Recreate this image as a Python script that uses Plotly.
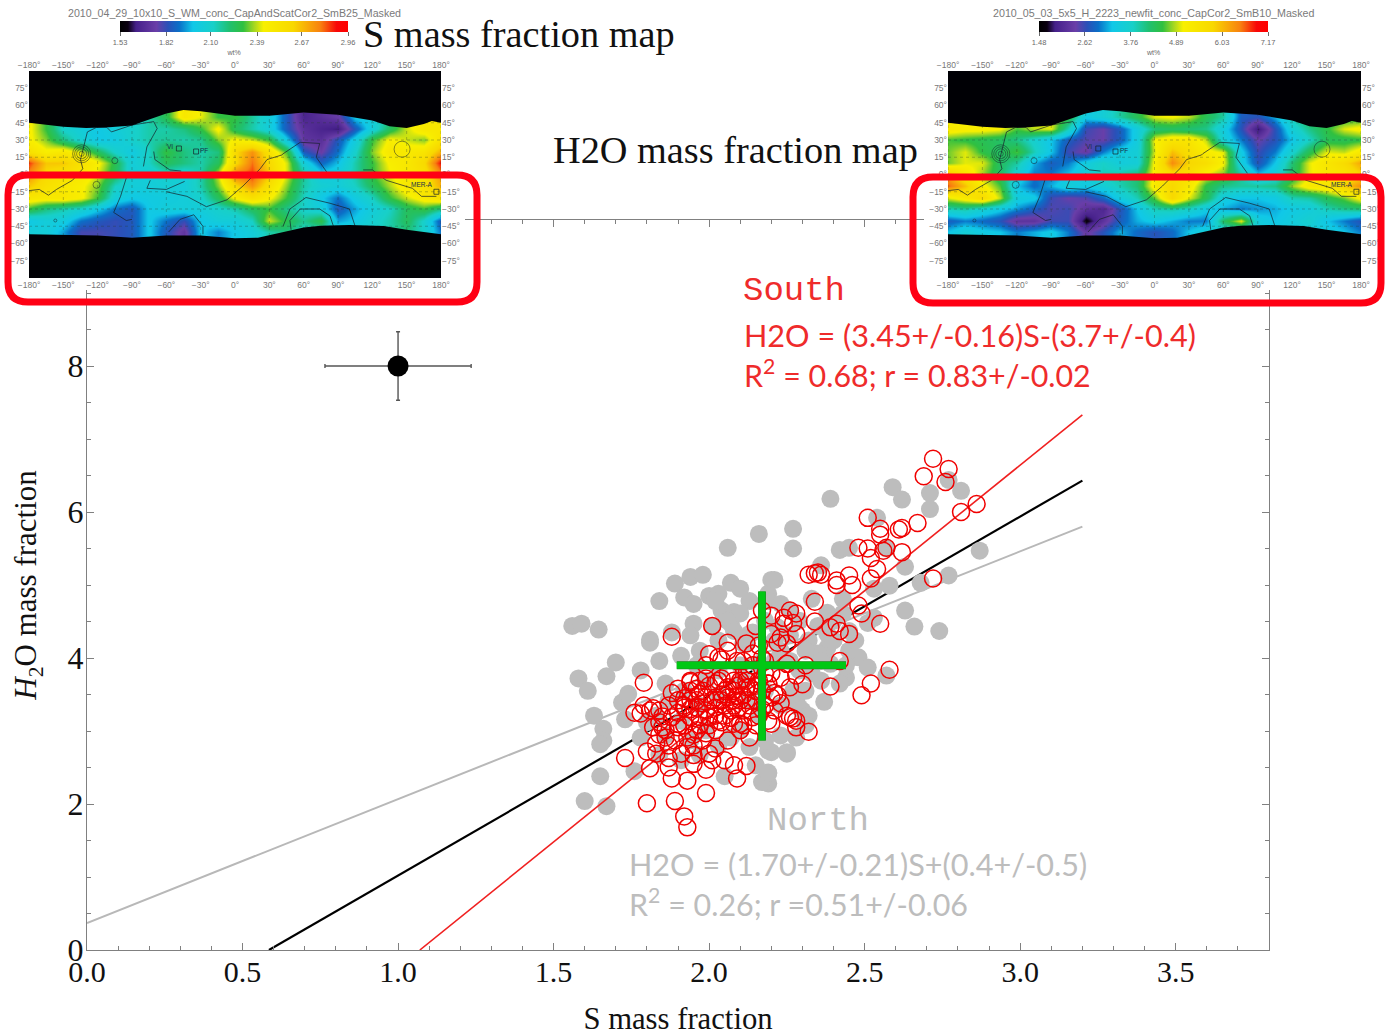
import plotly.graph_objects as go

W, H = 1389, 1036

# ---------- scatter data: S mass fraction, H2O mass fraction ----------
north_s = [1.56,1.59,1.645,1.84,1.81,1.89,1.94,1.98,1.92,1.95,1.95,1.94,1.88,2.00,2.03,2.07,2.10,2.13,2.06,2.16,2.20,2.04,2.08,2.07,2.01,2.14,2.11,2.19,
 2.77,2.59,2.62,2.71,2.81,2.71,2.39,2.27,2.27,2.54,2.87,2.77,2.42,2.45,2.57,2.36,2.63,2.21,2.19,2.63,2.66,2.74,2.68,2.58,2.53,2.43,2.33,2.38,2.53,2.51,2.43,2.35,2.45,2.38,2.22,2.29,2.26,2.23,
 2.37,2.48,2.51,2.57,2.44,2.42,2.38,2.32,2.35,2.28,2.30,2.28,2.25,2.20,2.19,2.19,2.39,2.33,2.27,
 1.86,1.78,2.13,2.10,2.02,2.06,1.96,2.12,
 1.58,1.61,1.67,1.70,1.72,1.74,1.63,1.66,1.66,1.65,1.73,1.78,1.65,1.76,1.60,1.67,2.05,2.17,2.19,2.15,2.19,2.25,2.13,2.07,1.81,2.29,2.27,1.80,
 2.31,2.40,2.45,2.44,2.36,2.31,2.29,2.26,2.23,2.21,2.26,2.47,2.40,2.36,2.32,2.31,
 1.84,1.91,1.97,2.03,2.08,2.18,2.21,2.16,2.10,2.03,1.99,1.92,1.87,1.83,1.86,1.91,1.97,2.03,2.11,2.18,2.23,2.16,2.10,2.03,1.97,1.91,1.84,1.99,1.94,2.13,2.23,2.18]
north_h = [4.44,4.47,4.39,4.78,4.25,5.02,5.11,5.14,4.83,4.74,4.47,4.31,4.35,4.85,4.88,5.03,4.95,4.78,5.51,5.70,5.07,4.65,4.63,4.47,4.44,4.35,4.20,4.88,
 6.44,6.34,6.17,6.26,6.29,6.04,6.18,5.77,5.50,5.92,5.47,5.13,5.48,5.51,5.50,5.27,5.25,5.07,4.78,4.65,4.43,4.37,5.03,4.99,4.95,4.81,4.81,4.62,4.55,4.48,4.61,4.44,4.37,4.33,4.42,4.51,4.65,4.74,
 3.40,4.01,3.87,3.76,3.73,3.65,4.14,4.24,4.06,3.42,3.28,2.91,2.69,2.71,2.42,2.28,3.92,3.79,3.55,
 3.65,3.83,4.33,4.61,4.78,4.51,3.90,4.20,
 3.72,3.55,3.75,3.94,3.39,3.51,3.21,3.03,2.87,2.82,3.16,2.91,2.38,2.45,2.04,1.97,2.38,2.30,2.43,2.53,2.73,2.71,2.78,2.91,4.21,3.32,3.51,3.12,
 4.10,4.24,4.10,3.90,3.69,3.55,3.83,3.96,4.10,4.24,4.31,4.24,4.51,3.96,3.21,3.08,
 3.96,4.03,4.10,4.24,4.37,4.51,3.96,3.90,3.90,3.83,3.69,3.55,3.42,3.21,2.94,3.14,3.35,3.49,3.69,3.55,3.35,3.21,3.01,2.80,2.67,2.60,2.67,3.01,2.87,3.42,2.94,2.87]

south_s = [2.72,2.77,2.69,2.76,2.86,2.81,2.51,2.67,2.62,2.61,2.55,2.55,2.51,2.48,2.56,2.57,2.62,2.52,2.54,2.52,2.45,2.46,2.41,2.41,2.32,2.35,2.36,2.34,2.72,2.34,2.48,2.49,2.55,2.34,2.39,2.41,2.42,2.45,2.26,2.28,2.24,2.27,2.20,2.23,
 2.42,2.58,2.52,2.49,2.39,2.30,2.31,2.28,2.32,2.28,2.27,2.28,2.25,2.20,2.20,2.22,2.23,2.25,2.21,2.19,2.28,2.25,2.22,
 2.17,2.01,1.88,1.79,2.06,2.06,2.03,2.00,2.12,2.20,2.24,2.09,2.14,2.10,1.94,1.90,1.96,1.99,2.02,2.06,2.12,2.16,2.20,2.08,2.04,1.96,1.92,1.84,1.81,1.88,1.78,1.76,1.82,
 1.73,1.81,1.80,1.89,1.99,1.92,1.93,1.93,1.88,2.09,2.12,2.08,1.99,1.87,1.87,1.83,1.83,1.95,2.02,2.00,2.01,1.91,1.86,1.84,1.86,1.90,1.92,1.94,1.94,1.97,
 2.13,2.03,2.10,2.10,1.99,1.93,1.96,1.90,1.89,1.93,1.98,2.06,2.00,1.97,1.94,2.07,2.11,2.08,2.14,2.19,2.19,2.12,2.08,2.02,2.06,2.10,2.15,1.98,2.02,2.26,
 2.05,2.08,2.11,2.15,2.18,2.03,1.97,1.94,1.99,2.02,2.05,2.08,2.11,2.15,2.16,2.02,1.97,1.95,1.92,1.87,2.13,2.18,2.11,2.16,2.15,
 2.00,2.04,2.09,2.13,2.17,2.21,1.98,2.01,2.05,2.09,2.13,2.17,1.94,1.96,1.90,1.87,1.85,1.90,1.95,2.00,2.04,2.07,2.12,2.15,2.18,2.12,2.06,2.09,2.04,1.99,1.92,1.88,1.85,1.82,1.79,1.84,1.80,1.95,2.05,2.23,2.17,2.14,2.04,1.99,2.26]
south_h = [6.73,6.59,6.49,6.41,6.11,6.00,5.92,5.85,5.78,5.76,5.77,5.69,5.50,5.51,5.47,5.51,5.45,5.37,5.22,5.09,5.13,5.00,5.06,5.00,5.14,5.17,5.14,5.16,5.09,4.77,4.72,4.61,4.47,4.50,4.42,4.47,4.37,4.33,4.65,4.61,4.55,4.48,4.33,4.28,
 3.96,3.84,3.65,3.49,3.61,3.64,3.90,3.76,2.99,3.14,3.17,3.05,3.21,3.10,3.46,3.49,3.73,3.92,3.28,3.65,4.33,4.20,4.21,
 4.65,4.44,4.29,3.66,4.21,4.10,4.01,4.05,4.20,4.58,4.47,3.96,4.06,3.69,3.69,3.58,3.58,3.46,3.65,3.79,3.60,3.69,3.79,3.55,3.42,3.32,3.35,3.28,3.28,3.19,3.24,3.25,3.31,
 2.63,2.49,2.01,2.04,2.15,1.83,1.68,2.32,2.35,2.35,2.52,2.53,2.47,2.50,2.63,2.69,2.83,2.67,2.76,2.69,2.60,2.69,2.91,3.12,3.01,3.25,3.32,3.67,3.55,3.51,
 2.91,3.14,3.10,3.01,2.97,2.91,3.01,3.05,2.87,2.78,2.87,2.87,3.19,3.19,3.19,3.28,3.28,3.10,3.19,3.14,3.65,3.69,3.69,3.46,3.46,3.42,3.42,3.38,3.32,3.19,
 3.55,3.42,3.49,3.55,3.35,3.69,3.69,3.42,3.28,3.21,3.21,3.35,3.08,3.08,3.21,3.01,3.08,2.80,3.08,2.80,3.83,3.96,3.96,4.17,4.44,
 3.62,3.72,3.62,3.60,3.55,3.52,3.55,3.42,3.35,3.30,3.35,3.30,3.30,3.42,3.42,3.35,3.20,3.10,2.95,3.08,3.12,3.18,3.42,3.62,3.78,3.78,3.60,3.48,3.50,3.72,3.45,3.52,3.05,3.05,3.35,2.95,2.72,2.55,2.60,3.38,4.00,3.90,3.98,3.90,3.60]

# fit lines (end points)
fit_north_s, fit_north_h = [0.0, 3.2], [0.37, 5.80]
fit_all_s, fit_all_h = [0.585, 3.2], [0.0, 6.43]
fit_south_s, fit_south_h = [1.07, 3.2], [0.0, 7.33]

# mean and spread cross (green); typical error cross (black)
cross_h_s, cross_h_h = [1.896, 2.44], [3.9, 3.9]
cross_v_s, cross_v_h = [2.17, 2.17], [2.87, 4.91]
err_s, err_h, err_ds, err_dh = [1.0], [8.0], [0.235], [0.47]

x_ticks = [0, 0.5, 1.0, 1.5, 2.0, 2.5, 3.0, 3.5]
y_ticks = [0, 2, 4, 6, 8]

# ---------- maps ----------
map_lon = [-180,-165,-150,-135,-120,-105,-90,-75,-60,-45,-30,-15,0,15,30,45,60,75,90,105,120,135,150,165,180]
map_lat = [60,50,40,30,20,10,0,-10,-20,-30,-40,-50,-60]

s_map = [
 [2.45,2.3,2.1,2.05,2.0,2.05,2.1,2.15,2.27,2.5,2.42,2.3,2.3,2.17,2.05,1.85,1.65,1.7,1.75,2.0,2.05,2.2,2.4,2.5,2.5],
 [2.45,2.3,2.1,2.05,2.0,2.05,2.1,2.15,2.27,2.5,2.42,2.3,2.3,2.17,2.05,1.85,1.65,1.7,1.75,2.0,2.05,2.2,2.4,2.5,2.5],
 [2.45,2.3,2.1,2.05,2.0,2.05,2.1,2.15,2.15,2.2,2.3,2.45,2.25,2.15,2.05,1.85,1.7,1.65,1.62,1.85,2.05,2.25,2.4,2.5,2.5],
 [2.45,2.35,2.2,2.08,2.0,2.02,2.1,2.15,2.17,2.15,2.18,2.35,2.45,2.4,2.3,2.0,1.72,1.7,1.85,2.03,2.3,2.45,2.4,2.35,2.55],
 [2.55,2.45,2.5,2.4,2.25,2.1,2.02,2.12,2.3,2.2,2.15,2.2,2.6,2.75,2.55,2.3,1.85,1.75,1.9,2.1,2.35,2.5,2.48,2.52,2.7],
 [2.85,2.65,2.65,2.55,2.45,2.27,2.05,2.12,2.25,2.2,2.15,2.25,2.6,2.8,2.6,2.4,2.05,1.88,1.98,2.15,2.3,2.45,2.5,2.6,2.9],
 [2.75,2.6,2.55,2.5,2.4,2.25,2.05,2.05,2.1,2.05,2.15,2.4,2.8,2.85,2.65,2.4,2.17,2.02,2.05,2.15,2.3,2.42,2.5,2.55,2.75],
 [2.65,2.55,2.5,2.45,2.35,2.12,2.05,2.05,2.07,2.05,2.15,2.35,2.6,2.75,2.55,2.35,2.15,2.08,2.05,2.12,2.25,2.38,2.5,2.55,2.7],
 [2.5,2.48,2.5,2.45,2.3,2.05,2.0,2.02,2.03,2.05,2.1,2.25,2.45,2.55,2.45,2.3,2.12,2.0,1.9,2.02,2.12,2.3,2.4,2.48,2.55],
 [2.3,2.2,2.15,2.1,2.0,1.9,1.85,2.0,2.05,2.05,2.05,2.1,2.15,2.25,2.3,2.18,2.1,2.05,1.85,1.95,2.05,2.12,2.25,2.3,2.2],
 [2.0,2.05,2.03,1.9,1.85,1.82,1.85,2.0,1.9,1.82,2.0,2.05,2.05,2.12,2.4,2.27,2.18,2.28,1.95,2.0,2.08,2.15,2.25,2.1,1.85],
 [2.05,2.05,1.95,1.8,1.8,1.82,1.85,2.0,1.85,1.72,2.0,1.92,2.0,2.05,2.15,2.2,2.1,2.1,2.1,2.1,2.1,2.15,2.2,2.1,1.9],
 [2.05,2.05,1.95,1.8,1.8,1.82,1.85,2.0,1.85,1.72,2.0,1.92,2.0,2.05,2.15,2.2,2.1,2.1,2.1,2.1,2.1,2.15,2.2,2.1,1.9],
]
h_map = [
 [5.0,5.0,5.0,5.0,5.0,5.0,5.0,4.5,3.4,3.6,4.0,4.4,5.0,5.1,4.9,4.4,4.0,2.8,2.7,3.2,3.9,4.4,4.4,4.4,4.4],
 [5.0,5.0,5.0,5.0,5.0,5.0,5.0,4.5,3.4,3.6,4.0,4.4,5.0,5.1,4.9,4.4,4.0,2.8,2.7,3.2,3.9,4.4,4.4,4.4,4.4],
 [5.3,5.2,5.2,5.1,4.6,4.9,5.0,3.9,2.6,2.4,2.8,3.5,4.2,4.3,4.2,4.1,3.5,2.7,1.8,2.7,3.6,4.1,4.5,5.0,5.2],
 [4.6,4.5,4.4,4.3,4.1,3.7,3.3,2.8,2.5,2.4,2.8,3.5,5.1,5.4,5.4,4.9,3.6,3.0,2.4,2.7,3.3,3.8,4.4,4.4,4.5],
 [4.7,5.0,4.5,4.3,4.6,3.9,3.3,2.6,2.3,3.0,3.5,3.6,5.0,6.0,5.6,5.2,5.0,3.4,2.6,3.0,3.7,4.4,5.0,4.9,5.3],
 [4.7,5.0,5.0,4.3,4.0,3.2,2.8,3.0,3.5,3.8,3.5,3.6,5.2,6.4,5.8,5.6,5.1,3.5,2.7,3.3,4.2,5.0,5.4,5.7,6.2],
 [6.2,5.4,4.8,4.3,3.6,3.0,3.0,3.3,3.6,3.9,4.0,4.2,5.2,5.6,5.6,5.0,4.7,4.0,3.3,3.6,4.3,5.0,5.3,5.4,5.8],
 [6.6,6.0,5.2,4.6,3.3,2.9,3.2,3.6,3.4,3.6,3.9,4.2,5.3,5.8,5.3,4.5,4.1,4.0,4.0,4.1,4.8,5.3,5.4,5.9,6.4],
 [5.0,5.3,5.7,4.9,3.5,3.4,2.6,2.4,2.5,2.9,3.5,3.9,4.7,5.8,5.0,4.4,3.5,3.3,3.3,3.4,3.9,4.0,4.4,4.7,5.2],
 [3.9,4.0,3.7,3.4,3.1,2.8,2.5,2.6,2.2,2.0,2.7,3.3,3.9,4.0,3.8,3.4,3.2,3.0,3.1,3.2,3.4,3.5,3.9,4.1,4.2],
 [2.8,3.0,2.9,2.7,2.2,2.2,2.6,2.6,1.6,2.2,2.8,3.2,3.4,3.2,3.0,3.0,4.3,5.0,3.5,3.3,3.5,3.7,3.3,3.0,2.7],
 [3.3,3.6,3.4,3.3,3.0,3.2,3.4,3.0,2.3,2.7,3.2,2.9,2.7,2.9,3.3,3.6,3.5,3.5,3.5,3.5,3.5,3.5,3.5,3.3,3.0],
 [3.3,3.6,3.4,3.3,3.0,3.2,3.4,3.0,2.3,2.7,3.2,2.9,2.7,2.9,3.3,3.6,3.5,3.5,3.5,3.5,3.5,3.5,3.5,3.3,3.0],
]
s_cbar_ticks = [1.53, 1.82, 2.10, 2.39, 2.67, 2.96]
h_cbar_ticks = [1.48, 2.62, 3.76, 4.89, 6.03, 7.17]

# edge of the observed band (everything outside it is black)
band_top_lon = [-180,-165,-150,-130,-110,-90,-75,-60,-45,-30,0,30,60,90,120,135,150,165,172,180]
band_top_lat = [45,43,41.5,40.5,41,42.5,48,53,56,55,51,51,54,52,47,42,40.5,44,46.5,45]
band_bot_lon = [-180,-150,-120,-90,-60,-30,0,20,40,60,75,100,130,150,180]
band_bot_lat = [-52,-52.5,-53,-55,-53,-53,-55.5,-55,-50.5,-46,-44.5,-44,-44.7,-48,-52]

# Mars topographic outline
contour_lon = [-180,-171,-163,-156,-142,-133,-135,-129,-121,-112,-108,-90,-71,-68,-77,-80,None,
 -71,-70,-57,-47,None,-95,-100,-106,-95,-90,None,-74,-77,-60,-44,None,
 -60,-42,-25,-7,7,22,28,41,42,57,74,71,81,None,
 42,48,62,83,100,105,None,49,48,57,74,83,86,None,
 -58,-48,-36,-28,-28,None,112,120,132,155,163,176]
contour_lat = [-14,-13,-18,-13,-5,5,13,37,41,41,37,43,46,40,24,7,None,
 20,13,4,3,None,-3,-19,-33,-40,-39,None,-5,-12,-13,-6,None,
 -15,-19,-28,-22,-10,5,13,17,18,28,27,15,1,None,
 -45,-30,-20,-25,-30,-45,None,-48,-40,-30,-30,-36,-45,None,
 -50,-39,-35,-45,-52,None,4,4,-5,-12,-19,-19]
ring_lon = [-134,-134,-134,-134,146,-121,-105,-157]
ring_lat = [18,18,18,18,22,-9,12,-40]
ring_size = [5,10,14,18,16,7,6,3]
site_lon, site_lat = [-49,-34,176], [22.6,20,-15]
label_lon, label_lat, label_txt = [-57,-27,163], [24,21,-9], ["VI","PF","MER-A"]

lon_ticks = [-180,-150,-120,-90,-60,-30,0,30,60,90,120,150,180]
lat_ticks = [-75,-60,-45,-30,-15,0,15,30,45,60,75]
lon_labels = [("\u2212" if v < 0 else "") + f"{abs(v)}\u00b0" for v in lon_ticks]
lat_labels = [("\u2212" if v < 0 else "") + f"{abs(v)}\u00b0" for v in lat_ticks]

rainbow = [[0,"#000000"],[0.035,"#0a0010"],[0.07,"#45208a"],[0.16,"#6a3ea8"],[0.21,"#2a50b8"],[0.26,"#0a70c8"],
           [0.32,"#10c8e8"],[0.41,"#18d0c8"],[0.48,"#20c070"],[0.54,"#30c040"],[0.59,"#a8d820"],[0.63,"#f8f000"],
           [0.76,"#f8d800"],[0.88,"#f88010"],[0.95,"#f80808"],[1,"#ff0000"]]

MAIN_FONT = "Liberation Serif"
SMALL_GREY = "#6a6a6a"
RED_TXT = "#EF2B2B"
GREY_TXT = "#BDBDBD"

def dx(a, b): return [a / W, b / W]
def dy(top, bottom): return [1 - bottom / H, 1 - top / H]
def px(x): return x / W
def py(y): return 1 - y / H

fig = go.Figure()

# ---------- main panel ----------
fig.add_trace(go.Scatter(x=fit_north_s, y=fit_north_h, mode="lines", line=dict(color="#B8B8B8", width=2), showlegend=False))
fig.add_trace(go.Scatter(x=fit_all_s, y=fit_all_h, mode="lines", line=dict(color="#000000", width=2.2), showlegend=False))
fig.add_trace(go.Scatter(x=north_s, y=north_h, mode="markers", marker=dict(size=18, color="#BDBDBD"), showlegend=False))
fig.add_trace(go.Scatter(x=fit_south_s, y=fit_south_h, mode="lines", line=dict(color="#F02020", width=1.6), showlegend=False))
fig.add_trace(go.Scatter(x=south_s, y=south_h, mode="markers",
    marker=dict(size=17, color="rgba(0,0,0,0)", line=dict(color="#F00000", width=1.5)), showlegend=False))
for cs, ch, col, wd in [(cross_h_s, cross_h_h, "#2a7a2a", 8), (cross_v_s, cross_v_h, "#2a7a2a", 8),
                        (cross_h_s, cross_h_h, "#00C814", 7), (cross_v_s, cross_v_h, "#00C814", 7)]:
    fig.add_trace(go.Scatter(x=cs, y=ch, mode="lines", line=dict(color=col, width=wd), showlegend=False))
fig.add_trace(go.Scatter(x=err_s, y=err_h, mode="markers", marker=dict(size=21, color="#000000"),
    error_x=dict(type="data", array=err_ds, color="#555555", thickness=1.4, width=2),
    error_y=dict(type="data", array=err_dh, color="#555555", thickness=1.4, width=2), showlegend=False))

# ---------- white backing of the pasted map images ----------
white = [[0, "#ffffff"], [1, "#ffffff"]]
for xa, ya in [("x2", "y2"), ("x3", "y3")]:
    fig.add_trace(go.Heatmap(z=[[0]], x=[0, 1], y=[0, 1], colorscale=white, showscale=False, xaxis=xa, yaxis=ya, hoverinfo="skip"))

# ---------- the two maps ----------
grid_x, grid_y = [], []
for v in lon_ticks:
    grid_x += [v, v, None]; grid_y += [-90, 90, None]
for v in lat_ticks:
    grid_x += [-180, 180, None]; grid_y += [v, v, None]

def add_map(z, ticks, xa, ya, xo, yo, cb_left, cb_len):
    fig.add_trace(go.Heatmap(z=z, x=map_lon, y=map_lat, zmin=ticks[0], zmax=ticks[-1], zsmooth="best",
        colorscale=rainbow, xaxis=xa, yaxis=ya, hoverinfo="skip",
        colorbar=dict(orientation="h", x=px(cb_left), xanchor="left", y=py(21.5), yanchor="top",
                      len=cb_len, lenmode="pixels", thickness=10.5, thicknessmode="pixels", xpad=0, ypad=0,
                      tickvals=ticks, ticktext=[f"{t:.2f}" for t in ticks], ticks="outside", ticklen=4.5, tickwidth=1,
                      tickcolor=SMALL_GREY, tickfont=dict(size=7.5, color=SMALL_GREY, family="Liberation Sans"),
                      outlinewidth=0,
                      title=dict(text="wt%", side="bottom", font=dict(size=7, color=SMALL_GREY, family="Liberation Sans")))))
    fig.add_trace(go.Scatter(x=grid_x, y=grid_y, mode="lines", xaxis=xa, yaxis=ya, hoverinfo="skip", showlegend=False,
        line=dict(color="rgba(40,60,40,0.45)", width=0.7, dash="dot")))
    fig.add_trace(go.Scatter(x=contour_lon, y=contour_lat, mode="lines", xaxis=xa, yaxis=ya, hoverinfo="skip", showlegend=False,
        line=dict(color="#15202a", width=0.7)))
    fig.add_trace(go.Scatter(x=ring_lon, y=ring_lat, mode="markers", xaxis=xa, yaxis=ya, hoverinfo="skip", showlegend=False,
        marker=dict(symbol="circle-open", size=ring_size, color="#15202a", line=dict(width=0.7))))
    fig.add_trace(go.Scatter(x=site_lon, y=site_lat, mode="markers", xaxis=xa, yaxis=ya, hoverinfo="skip", showlegend=False,
        marker=dict(symbol="square-open", size=5, color="#15202a", line=dict(width=0.7))))
    for lo, la, tx in zip(label_lon, label_lat, label_txt):
        fig.add_annotation(x=lo, y=la, xref=xa, yref=ya, text=tx, showarrow=False, borderpad=0,
                           font=dict(size=6.5, color="#15304a", family="Liberation Sans"))
    for lons, lats, pole in [(band_top_lon, band_top_lat, 90), (band_bot_lon, band_bot_lat, -90)]:
        fig.add_trace(go.Scatter(x=lons + [180, -180], y=lats + [pole, pole], mode="lines", fill="toself", xaxis=xa, yaxis=ya,
            fillcolor="#000005", line=dict(color="#000005", width=0), hoverinfo="skip", showlegend=False))
    fig.add_trace(go.Scatter(x=[None], y=[None], xaxis=xo, yaxis=yo, hoverinfo="skip", showlegend=False))

add_map(s_map, s_cbar_ticks, "x4", "y4", "x5", "y5", 120, 228)
add_map(h_map, h_cbar_ticks, "x6", "y6", "x7", "y7", 1039, 229)

# ---------- axes ----------
axis_col = "#808080"
main_x = dict(domain=dx(87, 1269), range=[0, 3.8], anchor="y", showgrid=False, zeroline=False, showline=True, linecolor=axis_col,
    linewidth=1, mirror="allticks", tickvals=x_ticks, tickformat=".1f", ticks="inside", ticklen=7, tickcolor=axis_col,
    tickfont=dict(family=MAIN_FONT, size=30, color="#111111"), ticklabelstandoff=-5,
    minor=dict(dtick=0.1, ticks="inside", ticklen=4, tickcolor=axis_col, showgrid=False),
    title=dict(text="S mass fraction", font=dict(family=MAIN_FONT, size=30.7, color="#111111"), standoff=21))
main_y = dict(domain=dy(220, 950), range=[0, 10], anchor="x", showgrid=False, zeroline=False, showline=True, linecolor=axis_col,
    linewidth=1, mirror="allticks", tickvals=y_ticks, ticks="inside", ticklen=7, tickcolor=axis_col,
    tickfont=dict(family=MAIN_FONT, size=32, color="#111111"), ticklabelstandoff=-4,
    minor=dict(dtick=0.5, ticks="inside", ticklen=4, tickcolor=axis_col, showgrid=False),
    title=dict(text="<i>H</i><sub>2</sub>O mass fraction", font=dict(family=MAIN_FONT, size=31, color="#111111"), standoff=21))

hidden = dict(visible=False, range=[0, 1], fixedrange=True)
small = dict(size=8.5, color="#777777", family="Liberation Sans")

def map_axes(a0, a1):
    mx = dict(domain=dx(a0, a1), range=[-180, 180], showgrid=False, zeroline=False, showline=False, ticks="",
              tickvals=lon_ticks, ticktext=lon_labels, tickfont=small, tickangle=0)
    my = dict(domain=dy(71, 278), range=[-90, 90], showgrid=False, zeroline=False, showline=False, ticks="",
              tickvals=lat_ticks, ticktext=lat_labels, tickfont=small)
    return mx, my

lx, ly = map_axes(29, 441)
rx, ry = map_axes(948, 1361)

fig.update_layout(
    width=W, height=H, autosize=False,
    margin=dict(l=0, r=0, t=0, b=0, pad=0, autoexpand=False),
    paper_bgcolor="#ffffff", plot_bgcolor="#ffffff", showlegend=False,
    xaxis=main_x, yaxis=main_y,
    xaxis2=dict(hidden, domain=dx(0, 465), anchor="y2"), yaxis2=dict(hidden, domain=dy(0, 290), anchor="x2"),
    xaxis3=dict(hidden, domain=dx(924, 1389), anchor="y3"), yaxis3=dict(hidden, domain=dy(0, 290), anchor="x3"),
    xaxis4=dict(lx, anchor="y4"), yaxis4=dict(ly, anchor="x4"),
    xaxis5=dict(lx, anchor="y4", overlaying="x4", side="top"), yaxis5=dict(ly, anchor="x4", overlaying="y4", side="right"),
    xaxis6=dict(rx, anchor="y6"), yaxis6=dict(ry, anchor="x6"),
    xaxis7=dict(rx, anchor="y6", overlaying="x6", side="top"), yaxis7=dict(ry, anchor="x6", overlaying="y6", side="right"),
)

# ---------- red frames ----------
def rounded(x0, y0, x1, y1, r):
    p = lambda x, y: f"{px(x)},{py(y)}"
    return (f"M {p(x0 + r, y0)} L {p(x1 - r, y0)} Q {p(x1, y0)} {p(x1, y0 + r)} L {p(x1, y1 - r)} Q {p(x1, y1)} {p(x1 - r, y1)} "
            f"L {p(x0 + r, y1)} Q {p(x0, y1)} {p(x0, y1 - r)} L {p(x0, y0 + r)} Q {p(x0, y0)} {p(x0 + r, y0)} Z")

for box in [(8, 175, 477, 302), (913, 177, 1381, 303)]:
    fig.add_shape(type="path", path=rounded(*box, 20), xref="paper", yref="paper", layer="above",
                  line=dict(color="#FF0014", width=7))

# ---------- texts ----------
def note(x, y, text, family, size, color, anchor="left"):
    fig.add_annotation(x=px(x), y=py(y), xref="paper", yref="paper", text=text, showarrow=False, xanchor=anchor, yanchor="middle",
                       align="left", font=dict(family=family, size=size, color=color), borderpad=0)

note(362, 34, "S mass fraction map", MAIN_FONT, 38.3, "#111111")
note(552, 150, "H2O mass fraction map", MAIN_FONT, 38.3, "#111111")
note(234, 13, "2010_04_29_10x10_S_WM_conc_CapAndScatCor2_SmB25_Masked", "Liberation Sans", 10.65, "#7a7a7a", "center")
note(1154, 13, "2010_05_03_5x5_H_2223_newfit_conc_CapCor2_SmB10_Masked", "Liberation Sans", 10.7, "#7a7a7a", "center")
note(742, 291, "South", "Liberation Mono", 34, RED_TXT)
note(743, 335.5, "H2O = (3.45+/-0.16)S-(3.7+/-0.4)", "Lato", 30.6, RED_TXT)
note(743, 373, "R<sup>2</sup> = 0.68; r = 0.83+/-0.02", "Lato", 30.4, RED_TXT)
note(766, 821, "North", "Liberation Mono", 34, GREY_TXT)
note(628, 864, "H2O = (1.70+/-0.21)S+(0.4+/-0.5)", "Lato", 30.6, GREY_TXT)
note(628, 902, "R<sup>2</sup> = 0.26; r =0.51+/-0.06", "Lato", 30.4, GREY_TXT)

fig.write_html("out.html", post_script="document.body.style.margin='0';", config=dict(displayModeBar=False))
